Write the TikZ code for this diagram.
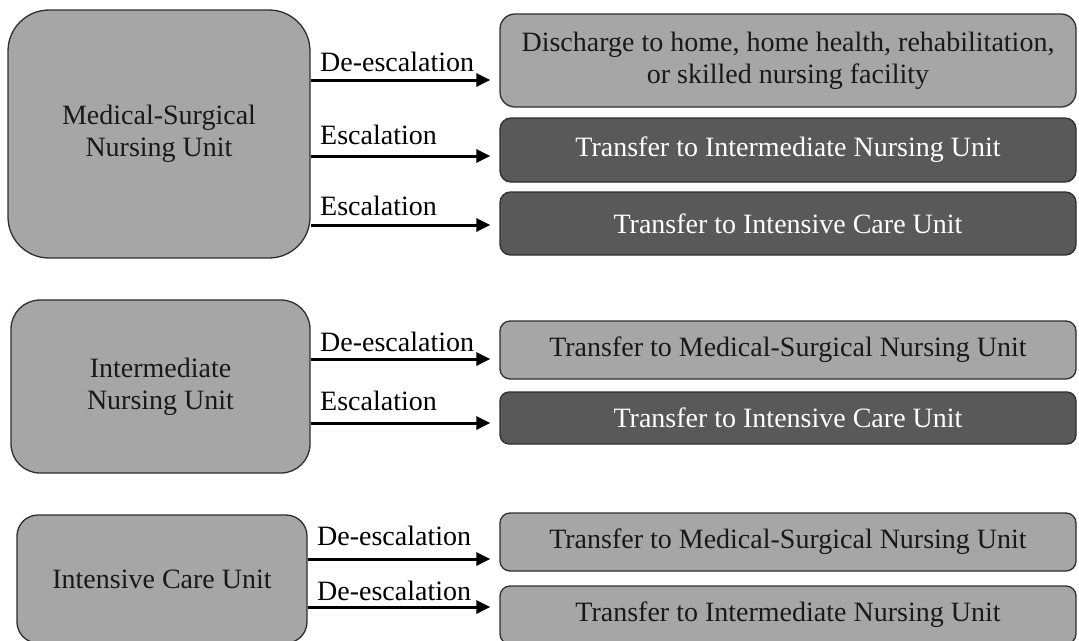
\documentclass[tikz,border=0pt]{standalone}
\usepackage{fontspec}
\setmainfont{Liberation Serif}
\usetikzlibrary{arrows.meta}
\definecolor{lgray}{HTML}{A6A6A6}
\definecolor{dgray}{HTML}{595959}
\definecolor{edge}{HTML}{2E2E2E}
\begin{document}
\begin{tikzpicture}[x=1pt,y=-1pt,
  box/.style={draw=edge, line width=1.3pt, rectangle, inner sep=0pt, align=center,
    font=\fontsize{28pt}{32pt}\selectfont},
  lightbox/.style={box, fill=lgray, text=black!90},
  darkbox/.style={box, fill=dgray, text=white},
  rbox/.style={minimum width=576pt},
  lbl/.style={anchor=base west, inner sep=0pt, font=\fontsize{28pt}{32pt}\selectfont},
  arr/.style={line width=3pt, -{Triangle[length=14pt,width=13pt]}, shorten >=9pt}
]
\useasboundingbox (0,0) rectangle (1079,640);
% left boxes
\node[lightbox, rounded corners=41pt, minimum width=302pt, minimum height=248pt] (L1) at (159,134) {Medical-Surgical\\Nursing Unit};
\node[lightbox, rounded corners=29pt, minimum width=299pt, minimum height=173pt] (L2) at (160.5,386.5) {Intermediate\\Nursing Unit};
\node[lightbox, rounded corners=21pt, minimum width=290pt, minimum height=128pt] (L3) at (162,579) {Intensive Care Unit};
% right boxes
\node[lightbox, rbox, rounded corners=15pt, minimum height=93pt] (R1) at (788,60.5) {Discharge to home, home health, rehabilitation,\\or skilled nursing facility};
\node[darkbox, rbox, rounded corners=11pt, minimum height=64pt] (R2) at (788,150) {Transfer to Intermediate Nursing Unit};
\node[darkbox, rbox, rounded corners=10.5pt, minimum height=63pt] (R3) at (788,223.5) {Transfer to Intensive Care Unit};
\node[lightbox, rbox, rounded corners=10pt, minimum height=58pt] (R4) at (788,350) {Transfer to Medical-Surgical Nursing Unit};
\node[darkbox, rbox, rounded corners=9pt, minimum height=52pt] (R5) at (788,418) {Transfer to Intensive Care Unit};
\node[lightbox, rbox, rounded corners=10pt, minimum height=58pt] (R6) at (788,542) {Transfer to Medical-Surgical Nursing Unit};
\node[lightbox, rbox, rounded corners=10pt, minimum height=58pt] (R7) at (788,615) {Transfer to Intermediate Nursing Unit};
% arrows
\draw[arr] (L1.east |- 0,80) -- (R1.west |- 0,80);
\draw[arr] (L1.east |- 0,156) -- (R2.west |- 0,156);
\draw[arr] (L1.east |- 0,225) -- (R3.west |- 0,225);
\draw[arr] (L2.east |- 0,359) -- (R4.west |- 0,359);
\draw[arr] (L2.east |- 0,423) -- (R5.west |- 0,423);
\draw[arr] (L3.east |- 0,559) -- (R6.west |- 0,559);
\draw[arr] (L3.east |- 0,607) -- (R7.west |- 0,607);
% labels
\node[lbl] (t1) at (320,71) {De-escalation};
\node[lbl] (t2) at (320,144) {Escalation};
\node[lbl] (t3) at (320,215) {Escalation};
\node[lbl] (t4) at (320,351) {De-escalation};
\node[lbl] (t5) at (320,410) {Escalation};
\node[lbl] (t6) at (317,545) {De-escalation};
\node[lbl] (t7) at (317,600) {De-escalation};
\end{tikzpicture}
\end{document}
